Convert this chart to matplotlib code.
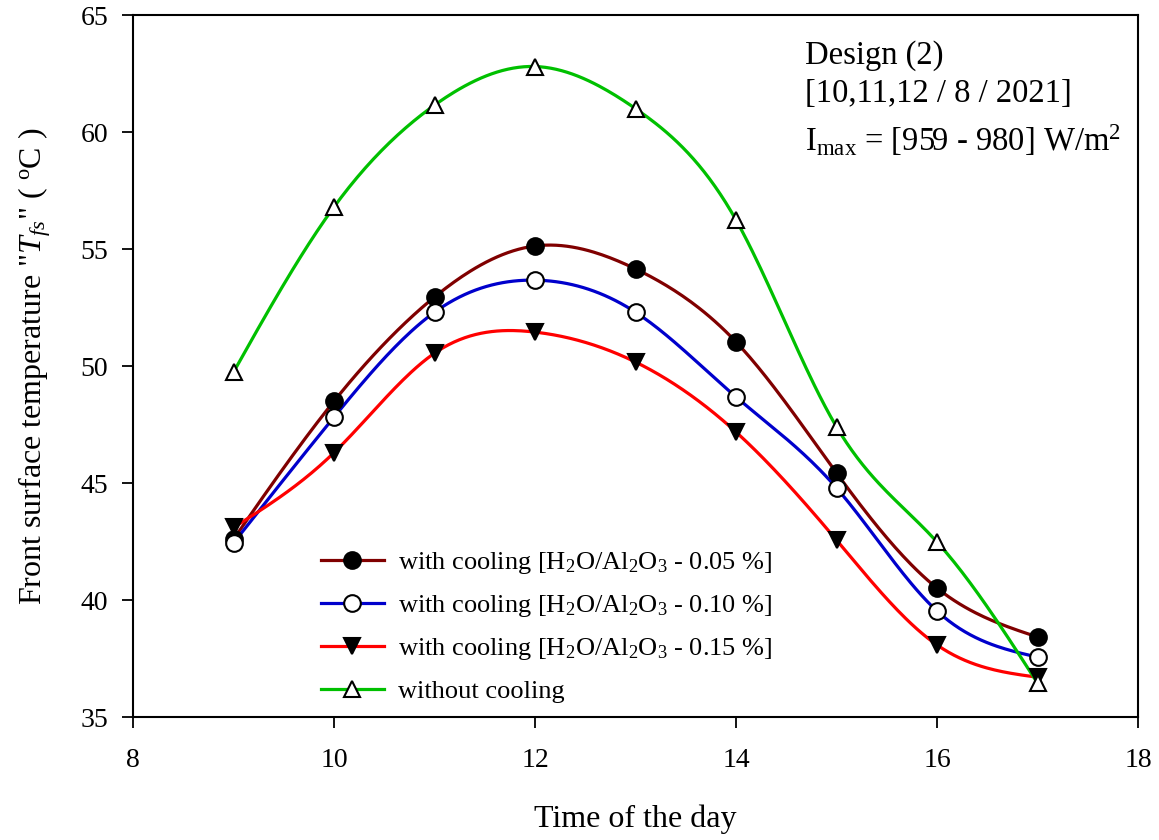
import numpy as np
import matplotlib
matplotlib.use("Agg")
import matplotlib.pyplot as plt
from matplotlib.lines import Line2D

plt.rcParams['font.family'] = ['Liberation Serif', 'DejaVu Serif']
plt.rcParams['mathtext.fontset'] = 'custom'
plt.rcParams['mathtext.rm'] = 'Liberation Serif'
plt.rcParams['mathtext.it'] = 'Liberation Serif:italic'

# time of day (hours)
hours = [9, 10, 11, 12, 13, 14, 15, 16, 17]

# front surface temperature (deg C)
t_005 = [42.6, 48.5, 52.95, 55.13, 54.15, 51.03, 45.43, 40.51, 38.42]
t_010 = [42.44, 47.82, 52.3, 53.67, 52.3, 48.68, 44.79, 39.53, 37.56]
t_015 = [43.1, 46.3, 50.55, 51.45, 50.17, 47.18, 42.56, 38.08, 36.7]
t_none = [49.74, 56.8, 61.15, 62.8, 61.0, 56.24, 47.4, 42.48, 36.45]

labels = [
    r'with cooling [H$_2$O/Al$_2$O$_3$ - 0.05 %]',
    r'with cooling [H$_2$O/Al$_2$O$_3$ - 0.10 %]',
    r'with cooling [H$_2$O/Al$_2$O$_3$ - 0.15 %]',
    'without cooling',
]


def natural_spline(x, y, n=300):
    # natural cubic spline through the points
    x = np.asarray(x, float)
    y = np.asarray(y, float)
    k = len(x)
    h = np.diff(x)
    A = np.zeros((k, k))
    b = np.zeros(k)
    A[0, 0] = A[-1, -1] = 1
    for i in range(1, k - 1):
        A[i, i - 1] = h[i - 1]
        A[i, i] = 2 * (h[i - 1] + h[i])
        A[i, i + 1] = h[i]
        b[i] = 6 * ((y[i + 1] - y[i]) / h[i] - (y[i] - y[i - 1]) / h[i - 1])
    M = np.linalg.solve(A, b)
    xs = np.linspace(x[0], x[-1], n)
    idx = np.clip(np.searchsorted(x, xs) - 1, 0, k - 2)
    x0, x1 = x[idx], x[idx + 1]
    hh = x1 - x0
    ys = (M[idx] * (x1 - xs) ** 3 / (6 * hh) + M[idx + 1] * (xs - x0) ** 3 / (6 * hh)
          + (y[idx] / hh - M[idx] * hh / 6) * (x1 - xs)
          + (y[idx + 1] / hh - M[idx + 1] * hh / 6) * (xs - x0))
    return xs, ys


fig = plt.figure(figsize=(11.59, 8.40), dpi=100)
ax = fig.add_axes([0.1148, 0.1464, 0.8671, 0.8357])

series = [
    (t_005, '#800000', 'o', 'black'),
    (t_010, '#0000cc', 'o', 'white'),
    (t_015, '#ff0000', 'v', 'black'),
    (t_none, '#00c000', '^', 'white'),
]

handles = []
for (vals, col, mk, face), lab in zip(series, labels):
    xs, ys = natural_spline(hours, vals)
    ax.plot(xs, ys, color=col, lw=2.3, zorder=2)
    ax.plot(hours, vals, ls='none', marker=mk, ms=12, mfc=face, mec='black',
            mew=1.5, zorder=3)
    handles.append(Line2D([], [], color=col, lw=2.3, marker=mk, ms=12,
                          mfc=face, mec='black', mew=1.5))

ax.set_xlim(8, 18)
ax.set_ylim(35, 65)
ax.set_xticks([8, 10, 12, 14, 16, 18])
ax.set_yticks([35, 40, 45, 50, 55, 60, 65])
ax.tick_params(direction='out', length=8, width=1.3, labelsize=20,
               top=False, right=False)
ax.tick_params(axis='x', pad=14)
ax.tick_params(axis='y', pad=10)
for sp in ax.spines.values():
    sp.set_linewidth(1.5)

ax.set_xlabel('Time of the day', fontsize=23, labelpad=23)
ax.set_ylabel(r'Front surface temperature "$\mathit{T_{fs}}$" ( $^{\mathrm{o}}$C )',
              fontsize=23, labelpad=20)

ax.text(0.669, 0.915, 'Design (2)\n[10,11,12 / 8 / 2021]', transform=ax.transAxes,
        fontsize=23.5, va='center', ha='left', linespacing=1.3)
ax.text(0.669, 0.822, r'I$_{\mathrm{max}}$ = [959 - 980] W/m$^2$',
        transform=ax.transAxes, fontsize=23.5, va='center', ha='left')

ax.legend(handles, labels, loc='lower left', bbox_to_anchor=(0.163, -0.014),
          frameon=False, fontsize=19, handlelength=2.4, handletextpad=0.55,
          labelspacing=0.65)

fig.savefig('out.png', dpi=100)
